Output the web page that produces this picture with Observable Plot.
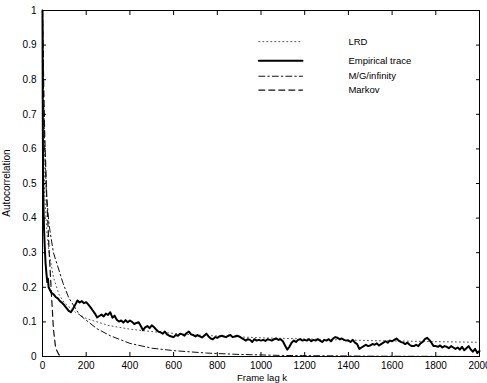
<!DOCTYPE html>
<html><head><meta charset="utf-8">
<script src="https://cdn.jsdelivr.net/npm/d3@7"></script>
<script src="https://cdn.jsdelivr.net/npm/@observablehq/plot@0.6"></script>
<style>
body{margin:0;background:#fff;}
#chart svg{font-family:"Liberation Sans",Arial,sans-serif;}
</style></head>
<body><div id="chart"></div>
<script>
const xTicks = [0,200,400,600,800,1000,1200,1400,1600,1800,2000];
const yTicks = [0,0.1,0.2,0.3,0.4,0.5,0.6,0.7,0.8,0.9,1];
const yTickLabels = ["0","0.1","0.2","0.3","0.4","0.5","0.6","0.7","0.8","0.9","1"];
const seriesNames = ["LRD","Empirical trace","M/G/infinity","Markov"];

// Empirical trace: early lags then every 10 from 40 to 2000
const empLagsEarly = [0,1,2,3,5,7,10,14,18,22,25,28,32,36];
const empValsEarly = [1.0,0.75,0.6,0.5,0.42,0.37,0.32,0.27,0.24,0.215,0.225,0.2,0.195,0.19];
const empVals10 = [
 0.185,0.18,0.172,0.168,0.16,0.155,
 0.148,0.14,0.132,0.128,0.138,0.15,0.162,0.156,0.16,0.154,
 0.157,0.15,0.142,0.133,0.124,0.113,0.117,0.121,0.116,0.124,
 0.12,0.128,0.112,0.118,0.106,0.101,0.104,0.098,0.105,0.099,
 0.104,0.1,0.094,0.097,0.099,0.088,0.076,0.084,0.088,0.082,
 0.09,0.085,0.078,0.072,0.07,0.066,0.072,0.064,0.06,0.058,
 0.056,0.062,0.06,0.066,0.064,0.06,0.068,0.072,0.064,0.062,
 0.058,0.062,0.058,0.055,0.06,0.066,0.058,0.052,0.05,0.056,
 0.054,0.058,0.06,0.058,0.056,0.06,0.062,0.056,0.058,0.06,
 0.058,0.054,0.05,0.046,0.05,0.048,0.042,0.05,0.046,0.048,
 0.046,0.048,0.045,0.05,0.048,0.046,0.05,0.052,0.048,0.05,
 0.044,0.032,0.02,0.028,0.04,0.046,0.042,0.048,0.05,0.046,
 0.048,0.046,0.05,0.044,0.048,0.046,0.05,0.046,0.042,0.048,
 0.046,0.05,0.044,0.052,0.056,0.054,0.05,0.052,0.048,0.046,
 0.046,0.042,0.048,0.04,0.036,0.022,0.026,0.03,0.034,0.03,
 0.032,0.036,0.034,0.038,0.032,0.036,0.04,0.044,0.04,0.046,
 0.044,0.048,0.052,0.046,0.042,0.04,0.036,0.04,0.034,0.03,
 0.03,0.034,0.03,0.038,0.042,0.05,0.054,0.048,0.04,0.03,
 0.03,0.028,0.032,0.026,0.03,0.028,0.024,0.03,0.026,0.022,
 0.026,0.02,0.028,0.018,0.024,0.03,0.02,0.014,0.022,0.01,0.016
];

const lrdLags = [1,5,10,20,30,50,75,100,150,200,300,400,500,700,1000,1500,2000];
const lrdVals = [0.95,0.6,0.47,0.36,0.3,0.23,0.18,0.155,0.128,0.11,0.09,0.079,0.072,0.062,0.054,0.046,0.041];

const mgLags = [0,5,10,18,30,50,65,95,120,170,200,250,310,400,500,600,750,900,1100,1500,2000];
const mgVals = [1,0.75,0.6,0.47,0.38,0.3,0.27,0.21,0.17,0.12,0.105,0.08,0.06,0.038,0.024,0.017,0.01,0.006,0.003,0.001,0];

const markovLags = [0,5,10,20,30,40,50,60,75,90,2000];
const markovVals = [1,0.8,0.64,0.45,0.31,0.19,0.08,0.025,0.005,0,0];

// build tables
const emp = empLagsEarly.map((k,i)=>({k, v: empValsEarly[i]}));
empVals10.forEach((v,i)=>emp.push({k: 40 + 10*i, v}));
const lrd = lrdLags.map((k,i)=>({k, v: lrdVals[i]}));
const mg = mgLags.map((k,i)=>({k, v: mgVals[i]}));
const markov = markovLags.map((k,i)=>({k, v: markovVals[i]}));

// legend sample rows (positions expressed in data units of the axes)
const legendY = [0.91, 0.855, 0.81, 0.77];
const legendX0 = 990, legendX1 = 1190, legendTextX = 1400;
const legendRows = seriesNames.map((name,i)=>({name, y: legendY[i]}));

const styles = [
  {stroke:"#555", strokeWidth:1, strokeDasharray:"1,3"},
  {stroke:"#000", strokeWidth:2},
  {stroke:"#111", strokeWidth:1, strokeDasharray:"6,3,1.5,3"},
  {stroke:"#111", strokeWidth:1.2, strokeDasharray:"6,4"}
];

const fmt = d => yTickLabels[yTicks.indexOf(d)] ?? String(d);

const chart = Plot.plot({
  width: 487, height: 383,
  marginLeft: 42, marginRight: 8, marginTop: 10, marginBottom: 27,
  x: {domain: [0,2000]},
  y: {domain: [0,1]},
  style: {fontFamily: "Liberation Sans, Arial, sans-serif", fontSize: "10px", color: "#000", background: "#fff"},
  marks: [
    Plot.line(lrd, {x:"k", y:"v", ...styles[0]}),
    Plot.line(mg, {x:"k", y:"v", ...styles[2]}),
    Plot.line(markov, {x:"k", y:"v", ...styles[3]}),
    Plot.line(emp, {x:"k", y:"v", ...styles[1], strokeLinejoin:"round"}),
    ...legendRows.map((r,i)=>Plot.line([{k:legendX0,v:r.y},{k:legendX1,v:r.y}], {x:"k", y:"v", ...styles[i]})),
    Plot.text(legendRows, {x: () => legendTextX, y:"y", text:"name", textAnchor:"start", fontSize: 9.5, fill:"#000"}),
    Plot.frame({stroke:"#000", strokeWidth:1}),
    Plot.axisX({anchor:"bottom", ticks: xTicks, tickSize: -4, tickPadding: 9, tickFormat: d => String(d), label: null, fontSize: 10}),
    Plot.axisX({anchor:"top", ticks: xTicks, tickSize: -4, tickFormat: () => "", label: null}),
    Plot.axisY({anchor:"left", ticks: yTicks, tickSize: -4, tickPadding: 10, tickFormat: fmt, label: null, fontSize: 10}),
    Plot.axisY({anchor:"right", ticks: yTicks, tickSize: -4, tickFormat: () => "", label: null})
  ]
});
document.getElementById("chart").appendChild(chart);

const svg = d3.select(chart);
svg.append("text").attr("x", 262).attr("y", 381).attr("text-anchor","middle")
  .attr("font-size", 9.5).attr("fill","#000").text("Frame lag k");
svg.append("text").attr("transform","translate(10,183) rotate(-90)").attr("text-anchor","middle")
  .attr("font-size", 10).attr("fill","#000").text("Autocorrelation");
</script>
</body></html>
